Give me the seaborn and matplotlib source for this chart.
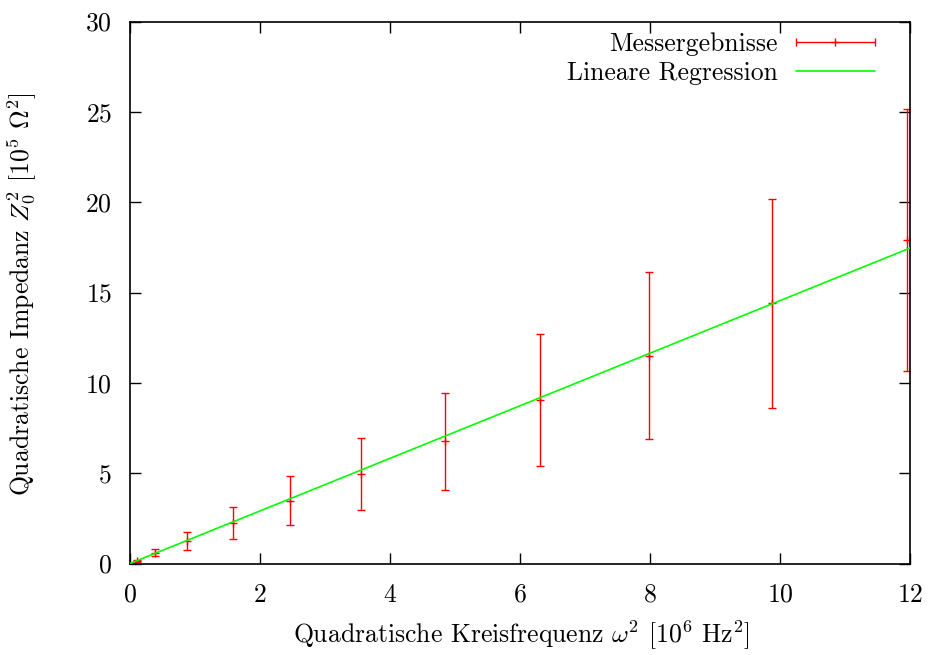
import numpy as np
import pandas as pd
import matplotlib
matplotlib.use('Agg')
import matplotlib.pyplot as plt
import seaborn as sns
from matplotlib.legend_handler import HandlerErrorbar

omega_sq = [0.10, 0.39, 0.88, 1.58, 2.46, 3.55, 4.84, 6.31, 7.99, 9.87, 11.95]   # 10^6 Hz^2
z0_sq = [0.15, 0.60, 1.26, 2.26, 3.48, 4.94, 6.76, 9.05, 11.50, 14.40, 17.89]    # 10^5 Ohm^2
z0_sq_err = [0.05, 0.21, 0.49, 0.88, 1.36, 2.00, 2.70, 3.63, 4.61, 5.78, 7.24]

reg_slope = 1.455
reg_intercept = 0.0

x_ticks = [0, 2, 4, 6, 8, 10, 12]
y_ticks = [0, 5, 10, 15, 20, 25, 30]

fs = 18.5

sns.set_theme(style='ticks')
plt.rcParams.update({
    'font.family': 'cmr10',
    'mathtext.fontset': 'cm',
    'axes.formatter.use_mathtext': True,
    'font.size': fs,
    'xtick.labelsize': fs,
    'ytick.labelsize': fs,
    'axes.labelsize': fs,
    'legend.fontsize': fs,
    'axes.linewidth': 1.2,
    'xtick.direction': 'in',
    'ytick.direction': 'in',
    'xtick.major.size': 8,
    'ytick.major.size': 8,
    'xtick.major.width': 1.0,
    'ytick.major.width': 1.0,
    'xtick.top': True,
    'ytick.right': True,
    'xtick.color': 'black',
    'ytick.color': 'black',
    'axes.edgecolor': 'black',
    'text.color': 'black',
    'axes.labelcolor': 'black',
})

fig = plt.figure(figsize=(9.33, 6.55), dpi=100)
ax = fig.add_axes([130 / 933, 1 - 563.5 / 655, 780 / 933, 542 / 655])

df = pd.DataFrame({'omega_sq': omega_sq, 'z0_sq': z0_sq, 'err': z0_sq_err})

# Regressionsgerade
reg = pd.DataFrame({'x': [x_ticks[0], x_ticks[-1]]})
reg['y'] = reg_slope * reg['x'] + reg_intercept

err = ax.errorbar(df['omega_sq'], df['z0_sq'], yerr=df['err'], fmt='+', color='#ff0000',
                  ecolor='#ff0000', elinewidth=1.0, capsize=3, capthick=1.0,
                  markersize=6, markeredgewidth=1.0, zorder=2)
sns.lineplot(data=reg, x='x', y='y', color='#00ff00', linewidth=1.2, ax=ax, zorder=3)

# Legendeneintrag im gnuplot-Stil (horizontaler Fehlerbalken)
proxy = ax.errorbar([np.nan], [np.nan], xerr=[1], fmt='+', color='#ff0000', ecolor='#ff0000',
                    elinewidth=1.0, capsize=3, capthick=1.0, markersize=6, markeredgewidth=1.0)
line_handle = plt.Line2D([], [], color='#00ff00', linewidth=1.2)

ax.legend([proxy, line_handle], ['Messergebnisse', 'Lineare Regression'],
          loc='upper right', frameon=False, markerfirst=False, handlelength=3.1,
          borderaxespad=0.0, borderpad=0.2, handletextpad=0.7, labelspacing=0.2,
          numpoints=1, bbox_to_anchor=(0.962, 0.989),
          handler_map={type(proxy): HandlerErrorbar(xerr_size=1.55)})

ax.set_xlim(x_ticks[0], x_ticks[-1])
ax.set_ylim(y_ticks[0], y_ticks[-1])
ax.set_xticks(x_ticks)
ax.set_yticks(y_ticks)
ax.tick_params(axis='x', pad=14)
ax.tick_params(axis='y', pad=13)

ax.set_xlabel(r'Quadratische Kreisfrequenz $\omega^2$ [$10^6$ Hz$^2$]')
ax.set_ylabel(r'Quadratische Impedanz $Z_0^2$ [$10^5$ $\Omega^2$]')
ax.xaxis.set_label_coords((521 - 130) / 780, -(619 - 563.5) / 542)
ax.yaxis.set_label_coords(-(130 - 38) / 780, (563.5 - 294) / 542)

fig.savefig('out.png', dpi=100)
plt.close(fig)
